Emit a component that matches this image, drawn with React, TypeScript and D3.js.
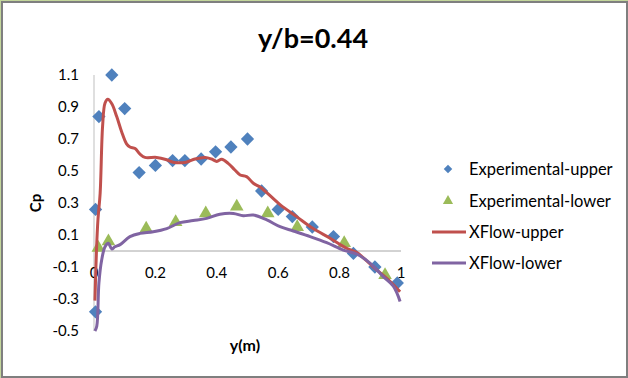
import React from "react";
import * as d3 from "d3";

const W = 628;
const H = 378;

const title = "y/b=0.44";
const xTicks = [0, 0.2, 0.4, 0.6, 0.8, 1];
const xTickLabels = ["0", "0.2", "0.4", "0.6", "0.8", "1"];
const yTicks = [-0.5, -0.3, -0.1, 0.1, 0.3, 0.5, 0.7, 0.9, 1.1];
const yTickLabels = ["-0.5", "-0.3", "-0.1", "0.1", "0.3", "0.5", "0.7", "0.9", "1.1"];

const expUpperX = [0.005, 0.005, 0.016, 0.058, 0.1, 0.147, 0.2, 0.256, 0.296, 0.349, 0.396, 0.446, 0.5, 0.546, 0.6, 0.646, 0.711, 0.78, 0.845, 0.915, 0.988];
const expUpperY = [-0.38, 0.26, 0.84, 1.1, 0.89, 0.49, 0.535, 0.565, 0.565, 0.575, 0.62, 0.65, 0.7, 0.375, 0.26, 0.215, 0.15, 0.09, -0.015, -0.1, -0.2];

const expLowerX = [0.014, 0.047, 0.17, 0.266, 0.364, 0.465, 0.566, 0.662, 0.815, 0.948];
const expLowerY = [0.02, 0.06, 0.14, 0.18, 0.235, 0.277, 0.235, 0.15, 0.05, -0.15];

const xflowUpperX = [0.003, 0.008, 0.013, 0.02, 0.028, 0.036, 0.045, 0.058, 0.074, 0.09, 0.106, 0.117, 0.134, 0.15, 0.166, 0.204, 0.237, 0.258, 0.3, 0.329, 0.362, 0.383, 0.4, 0.416, 0.437, 0.459, 0.476, 0.497, 0.519, 0.541, 0.606, 0.66, 0.714, 0.769, 0.823, 0.856, 0.91, 0.959, 0.997];
const xflowUpperY = [-0.31, 0.0, 0.2, 0.36, 0.78, 0.925, 0.948, 0.92, 0.84, 0.745, 0.67, 0.65, 0.64, 0.605, 0.585, 0.585, 0.57, 0.555, 0.555, 0.575, 0.585, 0.575, 0.56, 0.573, 0.548, 0.506, 0.475, 0.465, 0.423, 0.4, 0.29, 0.215, 0.14, 0.08, 0.017, -0.01, -0.1, -0.18, -0.255];

const xflowLowerX = [0.003, 0.009, 0.016, 0.025, 0.036, 0.047, 0.058, 0.068, 0.085, 0.117, 0.15, 0.193, 0.237, 0.28, 0.323, 0.367, 0.41, 0.454, 0.486, 0.519, 0.563, 0.606, 0.649, 0.704, 0.758, 0.812, 0.856, 0.9, 0.942, 0.975, 0.997];
const xflowLowerY = [-0.5, -0.47, -0.2, -0.056, 0.027, 0.048, 0.012, 0.027, 0.04, 0.09, 0.11, 0.12, 0.14, 0.177, 0.19, 0.204, 0.23, 0.235, 0.22, 0.225, 0.194, 0.152, 0.125, 0.09, 0.052, 0.006, -0.02, -0.077, -0.16, -0.22, -0.315];

const legendLabels = ["Experimental-upper", "Experimental-lower", "XFlow-upper", "XFlow-lower"];

const BLUE = "#4f81bd";
const GREEN = "#9bbb59";
const RED = "#c0504d";
const PURPLE = "#8064a2";
const FONT = "Lato, 'Liberation Sans', sans-serif";

export default function App() {
  const x = d3.scaleLinear().domain([0, 1]).range([94, 401]);
  const y = d3.scaleLinear().domain([-0.5, 1.1]).range([331, 75]);

  const line = d3
    .line<[number, number]>()
    .x((d) => x(d[0]))
    .y((d) => y(d[1]))
    .curve(d3.curveCatmullRom.alpha(0.5));

  const upperPts = xflowUpperX.map((v, i) => [v, xflowUpperY[i]] as [number, number]);
  const lowerPts = xflowLowerX.map((v, i) => [v, xflowLowerY[i]] as [number, number]);

  const diamond = d3.symbol().type(d3.symbolSquare).size(88)();
  const triangle = d3.symbol().type(d3.symbolTriangle).size(80)();
  const diamondSmall = d3.symbol().type(d3.symbolSquare).size(36)();
  const triangleSmall = d3.symbol().type(d3.symbolTriangle).size(45)();

  const legendY = [169, 201, 232, 263];

  return (
    <svg
      width={W}
      height={H}
      style={{ position: "absolute", left: 0, top: 0 }}
      fontFamily={FONT}
    >
      <rect x={0} y={0} width={W} height={H} fill="#c3d69b" />
      <rect x={2} y={2} width={W - 3} height={H - 3} fill="#ffffff" stroke="#7f7f7f" strokeWidth={2} />

      <text x={313} y={48} textAnchor="middle" fontSize={27} fontWeight="bold" fill="#000">
        {title}
      </text>

      {/* axes */}
      <line x1={x(0)} x2={x(0)} y1={y(1.1)} y2={y(-0.5)} stroke="#bfbfbf" strokeWidth={1} />
      <line x1={x(0)} x2={x(1)} y1={y(0)} y2={y(0)} stroke="#a6a6a6" strokeWidth={1} />

      {yTicks.map((t, i) => (
        <text key={"yt" + i} x={79} y={y(t)} dy="0.35em" textAnchor="end" fontSize={15} fill="#000">
          {yTickLabels[i]}
        </text>
      ))}
      {xTicks.map((t, i) => (
        <text key={"xt" + i} x={x(t)} y={273} dy="0.35em" textAnchor="middle" fontSize={15} fill="#000">
          {xTickLabels[i]}
        </text>
      ))}

      <text
        transform={`translate(36,203) rotate(-90)`}
        textAnchor="middle"
        dy="0.35em"
        fontSize={15}
        fontWeight="bold"
        fill="#000"
      >
        Cp
      </text>
      <text x={245} y={345} dy="0.35em" textAnchor="middle" fontSize={16} fontWeight="bold" fill="#000">
        y(m)
      </text>

      {/* markers */}
      {expUpperX.map((v, i) => (
        <path key={"eu" + i} d={diamond!} transform={`translate(${x(v)},${y(expUpperY[i])}) rotate(45)`} fill={BLUE} />
      ))}
      {expLowerX.map((v, i) => (
        <path key={"el" + i} d={triangle!} transform={`translate(${x(v)},${y(expLowerY[i])})`} fill={GREEN} />
      ))}

      {/* lines */}
      <path d={line(upperPts)!} fill="none" stroke={RED} strokeWidth={3} strokeLinejoin="round" />
      <path d={line(lowerPts)!} fill="none" stroke={PURPLE} strokeWidth={3} strokeLinejoin="round" />

      {/* legend */}
      <path d={diamondSmall!} transform={`translate(448,${legendY[0]}) rotate(45)`} fill={BLUE} />
      <path d={triangleSmall!} transform={`translate(448,${legendY[1]})`} fill={GREEN} />
      <line x1={432} x2={466} y1={legendY[2]} y2={legendY[2]} stroke={RED} strokeWidth={3} />
      <line x1={432} x2={466} y1={legendY[3]} y2={legendY[3]} stroke={PURPLE} strokeWidth={3} />
      {legendLabels.map((l, i) => (
        <text key={"lg" + i} x={469} y={legendY[i]} dy="0.35em" fontSize={16.5} fill="#000">
          {l}
        </text>
      ))}
    </svg>
  );
}
